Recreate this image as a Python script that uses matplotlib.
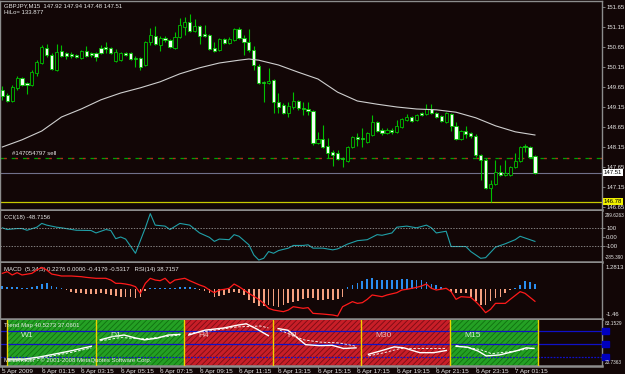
import matplotlib.pyplot as plt
from matplotlib.patches import Rectangle

plt.rcParams['font.family'] = ['Liberation Sans', 'DejaVu Sans']
plt.rcParams['hatch.linewidth'] = 0.6

# GBPJPY M15 bars, 5 Apr 23:15 .. 7 Apr 02:15
opens = [149.58, 149.45, 149.30, 149.63, 149.88, 149.75, 149.70, 150.00, 150.25, 150.63,
         150.45, 150.08, 150.55, 150.50, 150.48, 150.45, 150.38, 150.55, 150.50, 150.50,
         150.63, 150.65, 150.63, 150.30, 150.33, 150.50, 150.50, 150.38, 150.38, 150.20,
         150.78, 150.93, 150.70, 150.88, 150.83, 150.63, 150.90, 151.15, 151.28, 151.05,
         151.18, 150.98, 150.95, 150.63, 150.58, 150.85, 150.75, 150.83, 151.10, 150.88,
         150.78, 150.58, 150.18, 149.78, 149.75, 149.83, 149.28, 149.20, 149.00, 149.15,
         149.30, 149.13, 149.10, 149.05, 148.25, 148.35, 148.18, 148.03, 148.00, 147.88,
         147.80, 148.15, 148.40, 148.38, 148.28, 148.45, 148.78, 148.58, 148.50, 148.58,
         148.53, 148.65, 148.83, 148.90, 148.83, 149.00, 148.98, 149.10, 149.00, 148.93,
         148.78, 148.98, 148.68, 148.35, 148.55, 148.50, 148.43, 147.95, 147.83, 147.13,
         147.23, 147.53, 147.45, 147.45, 147.65, 147.80, 148.18, 148.15, 147.92]
highs = [149.68, 149.50, 149.70, 149.93, 149.90, 149.78, 150.08, 150.33, 150.70, 150.73,
         150.50, 150.73, 150.70, 150.53, 150.53, 150.48, 150.58, 150.68, 150.53, 150.53,
         150.70, 150.78, 150.65, 150.60, 150.53, 150.53, 150.53, 150.43, 150.40, 150.80,
         151.13, 151.18, 150.93, 150.93, 150.85, 151.03, 151.38, 151.40, 151.48, 151.35,
         151.20, 151.20, 150.98, 150.78, 150.88, 150.88, 150.90, 151.13, 151.15, 150.95,
         151.10, 150.68, 150.23, 149.80, 150.13, 149.85, 149.50, 149.25, 149.28, 149.53,
         149.33, 149.28, 149.28, 149.08, 148.53, 148.70, 148.38, 148.08, 148.08, 147.90,
         148.18, 148.43, 148.50, 148.63, 148.53, 148.95, 148.80, 148.63, 148.63, 148.63,
         148.83, 148.88, 148.98, 148.93, 148.98, 149.03, 149.23, 149.23, 149.03, 148.95,
         149.03, 149.00, 148.78, 148.58, 148.68, 148.53, 148.48, 147.98, 147.88, 147.33,
         147.83, 147.70, 147.83, 147.68, 148.00, 148.18, 148.23, 148.18, 147.94]
lows = [149.33, 149.28, 149.28, 149.58, 149.68, 149.48, 149.68, 149.93, 150.23, 150.40,
        150.08, 150.05, 150.40, 150.35, 150.38, 150.38, 150.35, 150.40, 150.40, 150.30,
        150.48, 150.50, 150.48, 150.28, 150.30, 150.43, 150.33, 150.15, 150.08, 150.18,
        150.70, 150.70, 150.55, 150.78, 150.63, 150.60, 150.88, 150.95, 151.03, 151.03,
        150.73, 150.90, 150.58, 150.53, 150.55, 150.73, 150.73, 150.80, 150.85, 150.45,
        150.53, 150.08, 149.73, 149.28, 149.73, 149.00, 149.00, 148.98, 148.90, 149.10,
        149.08, 148.95, 148.95, 148.20, 148.23, 148.13, 147.88, 147.68, 147.83, 147.65,
        147.78, 148.13, 148.18, 148.15, 148.25, 148.43, 148.53, 148.45, 148.48, 148.48,
        148.50, 148.63, 148.80, 148.78, 148.80, 148.93, 148.95, 148.98, 148.88, 148.78,
        148.75, 148.55, 148.33, 148.33, 148.38, 148.38, 147.90, 147.33, 147.10, 146.78,
        147.20, 147.43, 147.43, 147.43, 147.63, 147.78, 148.03, 147.88, 147.48]
closes = [149.43, 149.30, 149.65, 149.88, 149.70, 149.70, 150.03, 150.28, 150.65, 150.45,
          150.10, 150.53, 150.43, 150.43, 150.43, 150.40, 150.55, 150.43, 150.45, 150.40,
          150.50, 150.60, 150.50, 150.53, 150.50, 150.45, 150.35, 150.35, 150.15, 150.78,
          150.95, 150.73, 150.88, 150.83, 150.65, 150.90, 151.20, 151.28, 151.05, 151.18,
          150.93, 150.93, 150.60, 150.55, 150.85, 150.75, 150.85, 151.10, 150.88, 150.78,
          150.58, 150.20, 149.75, 149.75, 149.80, 149.28, 149.15, 149.00, 149.18, 149.30,
          149.13, 149.10, 149.05, 148.25, 148.35, 148.15, 148.00, 147.95, 147.85, 147.85,
          148.15, 148.40, 148.35, 148.35, 148.50, 148.78, 148.55, 148.50, 148.58, 148.53,
          148.68, 148.85, 148.90, 148.80, 148.95, 148.95, 149.10, 149.00, 148.90, 148.80,
          149.00, 148.68, 148.35, 148.55, 148.48, 148.43, 147.95, 147.83, 147.13, 147.23,
          147.53, 147.45, 147.50, 147.65, 147.80, 148.15, 148.15, 147.90, 147.51]

ma_bars = [0, 4, 8, 12, 16, 20, 24, 28, 32, 36, 40, 44, 48, 50, 52, 56, 60, 64,
           68, 72, 76, 80, 84, 88, 92, 96, 100, 104, 108]
ma_vals = [148.15, 148.33, 148.55, 148.90, 149.10, 149.33, 149.50, 149.63, 149.78,
           149.98, 150.13, 150.25, 150.32, 150.35, 150.32, 150.20, 150.02, 149.85,
           149.52, 149.30, 149.22, 149.15, 149.10, 149.08, 149.02, 148.88, 148.68,
           148.53, 148.45]

sell_price = 147.88
bid_price = 147.51
low_line = 146.78
price_ticks = [146.65, 147.15, 147.65, 148.15, 148.65, 149.15, 149.65, 150.15,
               150.65, 151.15, 151.65]

time_labels = ['5 Apr 2009', '6 Apr 01:15', '6 Apr 03:15', '6 Apr 05:15', '6 Apr 07:15',
               '6 Apr 09:15', '6 Apr 11:15', '6 Apr 13:15', '6 Apr 15:15', '6 Apr 17:15',
               '6 Apr 19:15', '6 Apr 21:15', '6 Apr 23:15', '7 Apr 01:15']
time_bars = [0, 8, 16, 24, 32, 40, 48, 56, 64, 72, 80, 88, 96, 104]

cci_bars = [0, 1, 3, 4, 5, 7, 8, 9, 11, 12, 15, 18, 19, 21, 22, 23, 24, 25, 27, 29,
            30, 31, 33, 34, 36, 38, 40, 42, 43, 44, 46, 47, 48, 50, 51, 52, 53, 54,
            55, 56, 58, 59, 61, 62, 63, 65, 67, 68, 70, 72, 74, 76, 77, 79, 80, 82,
            84, 86, 87, 88, 90, 91, 94, 95, 97, 98, 100, 102, 104, 105, 108]
cci_vals = [102, 83, 94, 94, 75, 109, 151, 132, 109, 102, 75, 72, 45, 83, 72, -19, 0,
            -23, -181, 102, 260, 132, 121, 83, 151, 132, 45, -4, -49, -23, -30, 26, 8,
            -87, -200, -256, -237, -162, -181, -151, -124, -94, -94, -87, -124, -124,
            -143, -132, -79, -41, -30, 26, 19, 45, 109, 121, 102, 132, 102, 45, 64,
            -106, -106, -162, -237, -230, -113, -75, -30, 8, -49]

macd_hist = [0.17, 0.10, 0.08, 0.08, 0.07, 0.05, 0.08, 0.17, 0.26, 0.30,
             0.17, 0.10, 0.05, -0.07, -0.17, -0.20, -0.20, -0.23, -0.26, -0.26,
             -0.20, -0.26, -0.28, -0.33, -0.37, -0.39, -0.41, -0.44, -0.37, -0.11,
             0.05, 0.05, 0.07, 0.05, 0.03, 0.05, 0.08, 0.10, 0.08, 0.03,
             -0.07, -0.11, -0.20, -0.37, -0.33, -0.28, -0.20, -0.15, -0.20, -0.31,
             -0.52, -0.69, -0.85, -0.82, -0.80, -0.85, -0.89, -0.77, -0.69, -0.64,
             -0.57, -0.50, -0.44, -0.44, -0.52, -0.52, -0.50, -0.52, -0.50, -0.37,
             0.08, 0.20, 0.30, 0.37, 0.50, 0.54, 0.46, 0.43, 0.43, 0.43,
             0.46, 0.50, 0.50, 0.43, 0.46, 0.43, 0.35, 0.26, 0.20, 0.10,
             0.03, -0.17, -0.20, -0.20, -0.20, -0.37, -0.61, -0.77, -0.80, -0.61,
             -0.44, -0.37, -0.20, -0.05, 0.05, 0.22, 0.37, 0.35, 0.23]

rsi_bars = [0, 1, 2, 3, 4, 6, 7, 8, 9, 10, 11, 12, 14, 16, 17, 19, 21, 22, 23, 24,
            25, 26, 27, 28, 29, 30, 31, 32, 33, 34, 35, 37, 38, 40, 41, 42, 43, 44,
            45, 46, 47, 48, 49, 50, 52, 53, 54, 55, 57, 58, 59, 61, 62, 63, 65, 67,
            68, 69, 71, 72, 73, 74, 75, 77, 78, 80, 81, 82, 84, 85, 86, 87, 88, 90,
            91, 92, 93, 95, 96, 97, 98, 99, 100, 102, 103, 105, 106, 108]
rsi_vals = [71.4, 73.4, 69.5, 72.2, 69.5, 71.4, 75.3, 78.4, 75.3, 70.6, 69.5, 68.3,
            68.3, 67.5, 66.7, 65.6, 65.6, 63.6, 59.7, 59.7, 58.9, 57.8, 55.8, 48.0,
            59.7, 65.6, 63.6, 62.8, 65.6, 59.7, 63.6, 65.6, 62.8, 57.8, 55.8, 51.9,
            48.8, 51.9, 52.7, 53.9, 58.9, 55.8, 51.9, 48.0, 41.0, 36.3, 30.5, 28.5,
            26.6, 28.5, 32.4, 30.5, 31.3, 24.6, 23.8, 22.7, 21.5, 32.4, 38.3, 36.3,
            37.1, 41.0, 46.1, 44.1, 46.1, 48.8, 51.9, 52.7, 55.0, 56.6, 58.9, 53.9,
            51.9, 53.9, 50.0, 41.0, 44.1, 43.3, 38.3, 32.4, 25.4, 29.3, 36.3, 36.3,
            41.0, 50.0, 48.0, 38.7]

# trend map: one block per timeframe, lines given as (fraction of block, value)
tm_names = ['W1', 'D1', 'H4', 'H1', 'M30', 'M15']
tm_state = ['up', 'up', 'down', 'down', 'down', 'up']
tm_frac = [[0.01, 0.19, 0.37, 0.56, 0.74, 0.87, 0.95],
           [0.05, 0.19, 0.32, 0.46, 0.55, 0.69, 0.82, 0.95],
           [0.05, 0.23, 0.45, 0.59, 0.70, 0.81, 0.95],
           [0.06, 0.17, 0.26, 0.37, 0.53, 0.67, 0.80, 0.94],
           [0.08, 0.21, 0.37, 0.48, 0.66, 0.82, 0.96],
           [0.07, 0.20, 0.32, 0.41, 0.56, 0.74, 0.86, 0.95]]
tm_vals = [[26.8, 26.8, 30.2, 35.2, 40.1, 44.1, 46.5],
           [56.4, 61.4, 63.8, 58.9, 56.4, 58.9, 63.8, 64.8],
           [63.8, 71.2, 74.7, 78.7, 81.1, 73.7, 62.8],
           [73.7, 71.2, 61.4, 49.0, 47.5, 48.0, 43.1, 44.1],
           [34.2, 39.1, 45.6, 44.1, 36.7, 36.7, 40.1],
           [46.5, 45.1, 39.1, 31.7, 33.2, 39.1, 44.1, 43.1]]
tm_ma_frac = [[0.01, 0.19, 0.37, 0.56, 0.74, 0.87, 0.95],
              [0.05, 0.28, 0.55, 0.95],
              [0.05, 0.27, 0.59, 0.86, 0.95],
              [0.08, 0.35, 0.53, 0.76, 0.94],
              [0.08, 0.26, 0.44, 0.66, 0.96],
              [0.07, 0.34, 0.47, 0.74, 0.95]]
tm_ma_vals = [[24.0, 24.5, 28.0, 33.0, 37.5, 41.5, 44.0],
              [54.9, 59.9, 57.9, 63.8],
              [66.3, 69.8, 76.2, 77.7, 74.7],
              [71.2, 56.4, 53.0, 51.5, 46.5],
              [31.7, 36.7, 43.1, 43.1, 43.1],
              [47.5, 41.6, 35.2, 39.1, 44.1]]
tm_levels = [70, 50, 30]

BG = '#120606'
GRID = '#8c8c8c'
TXT = '#e6e6e6'
GREEN = '#00c000'
FS = 4.3
FS_EDGE = 3.4

W, H = 625, 374


def box(y0, y1):
    return [0.0, 1 - y1 / H, 602 / W, (y1 - y0) / H]


fig = plt.figure(figsize=(6.25, 3.74), dpi=100, facecolor=BG)
ax = fig.add_axes(box(1, 210))
ax_cci = fig.add_axes(box(211, 262), sharex=ax)
ax_macd = fig.add_axes(box(263, 319), sharex=ax)
ax_tm = fig.add_axes(box(320, 366), sharex=ax)

for a in (ax, ax_cci, ax_macd, ax_tm):
    a.set_facecolor(BG)
    for s in a.spines.values():
        s.set_color(GRID)
        s.set_linewidth(1.0)
    a.spines['bottom'].set_linewidth(1.8)
    a.yaxis.tick_right()
    a.tick_params(axis='y', direction='out', length=2, width=0.6, color=GRID,
                  labelsize=FS, labelcolor=TXT, pad=1)
    a.tick_params(axis='x', bottom=False, labelbottom=False)
for a in (ax_cci, ax_macd, ax_tm):
    a.spines['top'].set_visible(False)

ax.set_xlim(-0.47, 121.6)

# ---- main price panel
for i in range(len(opens)):
    o, h, l, c = opens[i], highs[i], lows[i], closes[i]
    ax.plot([i, i], [l, h], color=GREEN, lw=0.8, solid_capstyle='butt', zorder=2)
    bottom = min(o, c)
    height = max(abs(c - o), 0.012)
    face = '#f2fff2' if c < o else BG
    ax.add_patch(Rectangle((i - 0.32, bottom), 0.64, height, facecolor=face,
                           edgecolor=GREEN, lw=0.6, zorder=3))

ax.plot(ma_bars, ma_vals, color='#cfcfcf', lw=0.8, zorder=4)

ax.axhline(sell_price, color='#00a000', lw=0.9, ls=(0, (5, 4)), zorder=1)
ax.axhline(sell_price, color='#c02020', lw=0.9, ls=(6, (2, 7)), zorder=1)
ax.axhline(bid_price, color='#70708a', lw=0.8, zorder=1)
ax.axhline(low_line, color='#c8c800', lw=0.9, zorder=1)

ax.set_ylim(146.575, 151.80)
ax.set_yticks(price_ticks)
ax.set_yticklabels(['%.2f' % v for v in price_ticks])

ax.text(0.006, 0.976, 'GBPJPY,M15  %.2f %.2f %.2f %.2f' % (opens[-1], highs[-1], lows[-1], closes[-1]),
        transform=ax.transAxes, color=TXT, fontsize=FS, va='center')
ax.text(0.006, 0.943, 'HiLo= 133.877', transform=ax.transAxes, color=TXT, fontsize=FS, va='center')
ax.text(2, sell_price + 0.04, '#147054797 sell', color=TXT, fontsize=FS, va='bottom')

yt = ax.get_yaxis_transform()
ax.text(1.003, bid_price, '%.2f' % bid_price, transform=yt, fontsize=FS, color='black',
        va='center', ha='left', bbox=dict(fc='white', ec='none', pad=0.6), clip_on=False)
ax.text(1.003, low_line, '%.2f' % low_line, transform=yt, fontsize=FS, color='black',
        va='center', ha='left', bbox=dict(fc='#f0f000', ec='none', pad=0.6), clip_on=False)

# ---- CCI panel
ax_cci.plot(cci_bars, cci_vals, color='#20a0a8', lw=0.8)
ax_cci.axhline(100, color='#b0b0b0', lw=0.5, ls=(0, (2, 2)))
ax_cci.axhline(-100, color='#b0b0b0', lw=0.5, ls=(0, (2, 2)))
ax_cci.set_ylim(-278, 289)
ax_cci.set_yticks([100, 0, -100])
ax_cci.set_yticklabels(['100', '0.00', '-100'])
ax_cci.text(1.004, 0.96, '299.6263', transform=ax_cci.transAxes, fontsize=FS_EDGE,
            color=TXT, va='top', clip_on=False)
ax_cci.text(1.004, 0.03, '-285.390', transform=ax_cci.transAxes, fontsize=FS_EDGE,
            color=TXT, va='bottom', clip_on=False)
ax_cci.text(0.006, 0.88, 'CCI(18) -48.7156', transform=ax_cci.transAxes, color=TXT,
            fontsize=FS, va='center')

# ---- MACD + RSI panel
bars = list(range(len(macd_hist)))
cols = ['#2a8ef0' if v >= 0 else '#f4a080' for v in macd_hist]
ax_macd.bar(bars, macd_hist, width=0.35, color=cols, linewidth=0)
ax_macd.set_ylim(-1.478, 1.2813)
ax_macd.set_yticks([0])
ax_macd.set_yticklabels(['0.00'])
ax_macd.text(1.006, 0.97, '1.2813', transform=ax_macd.transAxes, fontsize=FS, color=TXT,
             va='top', clip_on=False)
ax_macd.text(1.006, 0.03, '-1.46', transform=ax_macd.transAxes, fontsize=FS, color=TXT,
             va='bottom', clip_on=False)
ax_macd.text(0.006, 0.875, 'MACD  (5,34,5) 0.2276 0.0000 -0.4179 -0.5317   RSI(14) 38.7157',
             transform=ax_macd.transAxes, color=TXT, fontsize=FS, va='center', zorder=5)
ax_rsi = ax_macd.twinx()
ax_rsi.plot(rsi_bars, rsi_vals, color='#ff1a1a', lw=0.9)
ax_rsi.set_ylim(18, 83.5)
ax_rsi.yaxis.set_visible(False)
ax_rsi.xaxis.set_visible(False)
for s in ax_rsi.spines.values():
    s.set_visible(False)

# ---- trend map panel
blk0, blk = 1.0, 17.95
for k, name in enumerate(tm_names):
    x0 = blk0 + k * blk
    if tm_state[k] == 'up':
        fc, hc, tc = '#24a024', '#107010', '#c8f0c8'
    else:
        fc, hc, tc = '#c81e28', '#7a0c14', '#f0b8b8'
    ax_tm.axvspan(x0, x0 + blk, facecolor=fc, edgecolor=hc, hatch='//////', lw=0, zorder=1)
    xs = [x0 + f * blk for f in tm_frac[k]]
    ax_tm.plot(xs, tm_vals[k], color='white', lw=1.0, zorder=4)
    xm = [x0 + f * blk for f in tm_ma_frac[k]]
    ax_tm.plot(xm, tm_ma_vals[k], color='white', lw=0.6, ls=(0, (3, 2)), zorder=4)
    ax_tm.text(x0 + 0.16 * blk, 63, name, color=tc, fontsize=6, ha='left',
               va='center', zorder=5)
for k in range(len(tm_names) + 1):
    ax_tm.axvline(blk0 + k * blk, color='#f0d000', lw=1.0, zorder=3)
for lv in tm_levels:
    ls = '-' if lv != 30 else (0, (1.5, 1))
    ax_tm.axhline(lv, color='#1010c8', lw=0.9, ls=ls, zorder=2)
    ax_tm.add_patch(Rectangle((1.0, lv - 4), 0.011, 8, transform=ax_tm.get_yaxis_transform(),
                              color='#0000c0', clip_on=False, zorder=6))
ax_tm.set_ylim(16.2, 86.9)
ax_tm.set_yticks([])
ax_tm.text(1.005, 0.97, '83.1529', transform=ax_tm.transAxes, fontsize=FS_EDGE, color=TXT,
           va='top', clip_on=False, zorder=7)
ax_tm.text(1.005, 0.03, '20.7363', transform=ax_tm.transAxes, fontsize=FS_EDGE, color=TXT,
           va='bottom', clip_on=False, zorder=7)
ax_tm.text(0.006, 0.87, 'Trend Map 40.5273 37.0601', transform=ax_tm.transAxes,
           color=TXT, fontsize=FS, va='center', zorder=6)
ax_tm.text(0.006, 0.13, 'MetaTrader - \u00a9 2001-2008 MetaQuotes Software Corp.',
           transform=ax_tm.transAxes, color=TXT, fontsize=FS, va='center', zorder=6)

ax_tm.tick_params(axis='x', bottom=True, labelbottom=True, direction='out', length=2,
                  width=0.6, color=GRID, labelsize=4.6, labelcolor=TXT, pad=0.5)
ax_tm.set_xticks(time_bars)
ax_tm.set_xticklabels(time_labels)
for lab in ax_tm.get_xticklabels():
    lab.set_ha('left')

fig.savefig('out.png', dpi=100, facecolor=BG)
